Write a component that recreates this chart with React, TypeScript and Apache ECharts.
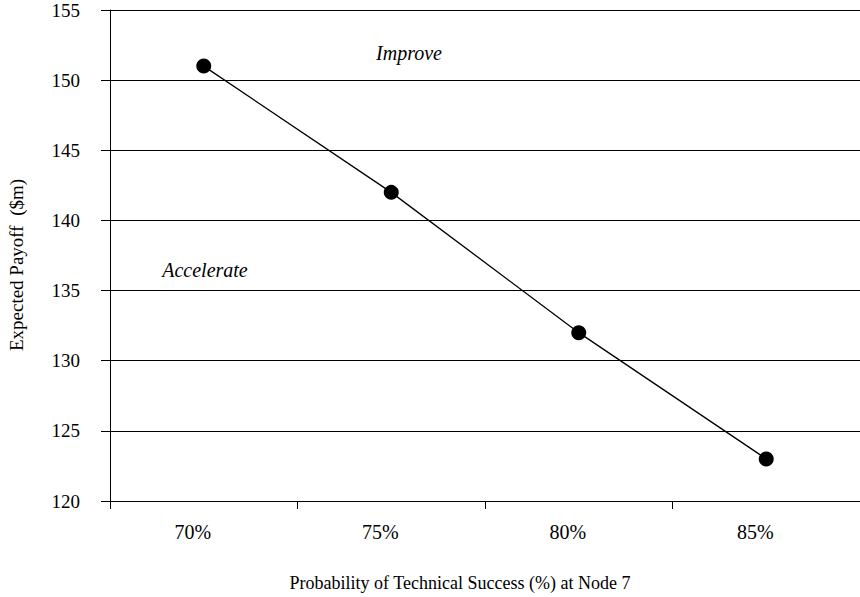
import React, { useEffect, useRef } from "react";
import * as echarts from "echarts";

const categories = ["70%", "75%", "80%", "85%"];
const payoff = [151, 142, 132, 123];
const yMin = 120;
const yMax = 155;
const yInterval = 5;
const xAxisName = "Probability of Technical Success (%) at Node 7";
const yAxisName = "Expected Payoff  ($m)";
const annotations = [
  { text: "Improve", x: 409, y: 53 },
  { text: "Accelerate", x: 205, y: 270 },
];

const FONT = "Liberation Serif";

export default function App() {
  const ref = useRef<HTMLDivElement>(null);
  useEffect(() => {
    if (!ref.current) return;
    const chart = echarts.init(ref.current, undefined, { renderer: "svg" });
    chart.setOption({
      animation: false,
      backgroundColor: "#fff",
      textStyle: { fontFamily: FONT, color: "#000" },
      grid: { left: 110, top: 10, width: 756, height: 491, containLabel: false },
      xAxis: {
        type: "category",
        data: categories,
        boundaryGap: true,
        axisLine: { show: true, lineStyle: { color: "#000", width: 1 } },
        axisTick: { show: true, length: 8, alignWithLabel: false, lineStyle: { color: "#000", width: 1 } },
        axisLabel: {
          fontFamily: FONT,
          fontSize: 20,
          color: "#000",
          margin: 21,
          padding: [0, 22, 0, 0],
        },
        splitLine: { show: false },
      },
      yAxis: {
        type: "value",
        min: yMin,
        max: yMax,
        interval: yInterval,
        axisLine: { show: true, lineStyle: { color: "#000", width: 1 } },
        axisTick: { show: true, length: 9, lineStyle: { color: "#000", width: 1 } },
        axisLabel: { fontFamily: FONT, fontSize: 19, color: "#000", margin: 30 },
        splitLine: { show: true, lineStyle: { color: "#000", width: 1.2 } },
      },
      series: [
        {
          type: "line",
          data: payoff,
          symbol: "circle",
          symbolSize: 15,
          lineStyle: { color: "#000", width: 1.3 },
          itemStyle: { color: "#000" },
        },
      ],
      graphic: [
        ...annotations.map((a) => ({
          type: "text",
          x: a.x,
          y: a.y,
          style: {
            text: a.text,
            fontFamily: FONT,
            fontStyle: "italic",
            fontSize: 20,
            fill: "#000",
            textAlign: "center",
            textVerticalAlign: "middle",
          },
        })),
        {
          type: "text",
          x: 460,
          y: 583,
          style: {
            text: xAxisName,
            fontFamily: FONT,
            fontSize: 18,
            fill: "#000",
            textAlign: "center",
            textVerticalAlign: "middle",
          },
        },
        {
          type: "text",
          x: 16,
          y: 265,
          rotation: Math.PI / 2,
          style: {
            text: yAxisName,
            fontFamily: FONT,
            fontSize: 19,
            fill: "#000",
            textAlign: "center",
            textVerticalAlign: "middle",
          },
        },
      ],
    });
    return () => chart.dispose();
  }, []);
  return (
    <div
      ref={ref}
      style={{ position: "fixed", left: 0, top: 0, width: 860, height: 597, background: "#fff" }}
    />
  );
}
